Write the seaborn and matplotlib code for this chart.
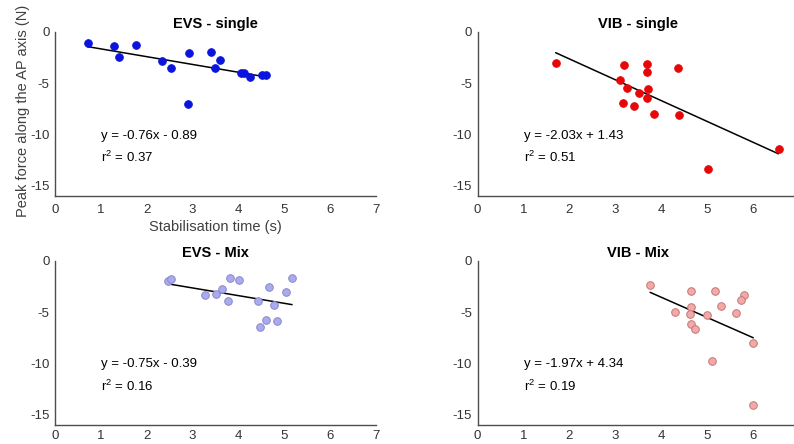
import matplotlib
matplotlib.use("Agg")
import matplotlib.pyplot as plt
import seaborn as sns
import numpy as np
import pandas as pd

# Stabilisation time (s) vs peak AP force (N)
evs_single_x = [0.71, 1.29, 1.40, 1.76, 2.34, 2.52, 2.93, 2.91, 3.41, 3.60, 3.49, 4.06, 4.11, 4.26, 4.51, 4.59]
evs_single_y = [-1.04, -1.37, -2.41, -1.27, -2.86, -3.48, -2.05, -7.03, -1.95, -2.77, -3.51, -3.97, -4.00, -4.39, -4.17, -4.17]

vib_single_x = [1.70, 3.18, 3.70, 3.69, 4.36, 3.10, 3.26, 3.71, 3.52, 3.70, 3.17, 3.40, 3.84, 4.39, 6.56, 5.02]
vib_single_y = [-3.06, -3.22, -3.16, -3.87, -3.51, -4.65, -5.47, -5.56, -5.99, -6.41, -6.93, -7.22, -8.04, -8.14, -11.45, -13.41]

evs_mix_x = [2.47, 2.53, 3.26, 3.51, 3.65, 3.77, 3.82, 4.01, 4.43, 4.67, 4.78, 4.59, 4.47, 4.83, 5.04, 5.17]
evs_mix_y = [-1.99, -1.76, -3.36, -3.26, -2.74, -3.91, -1.66, -1.89, -3.88, -2.58, -4.27, -5.77, -6.46, -5.84, -3.03, -1.66]

vib_mix_x = [3.76, 4.65, 5.17, 5.81, 5.75, 5.30, 4.65, 4.31, 4.62, 5.01, 5.63, 4.66, 4.74, 6.01, 5.11, 6.01]
vib_mix_y = [-2.40, -2.89, -2.89, -3.31, -3.83, -4.38, -4.51, -5.03, -5.19, -5.32, -5.06, -6.14, -6.62, -7.99, -9.77, -14.03]

titles = ["EVS - single", "VIB - single", "EVS - Mix", "VIB - Mix"]
slopes = [-0.76, -2.03, -0.75, -1.97]
intercepts = [-0.89, 1.43, -0.39, 4.34]
r2_values = [0.37, 0.51, 0.16, 0.19]
fill_colors = ["#0a14dc", "#e60808", "#aaaaf0", "#f5a8a8"]
edge_colors = ["#0a14dc", "#e60808", "#8888c8", "#c07878"]

sns.set_theme(style="white")
plt.rcParams["font.family"] = ["Liberation Sans", "DejaVu Sans"]
plt.rcParams["axes.unicode_minus"] = False
plt.rcParams["mathtext.fontset"] = "custom"
plt.rcParams["mathtext.rm"] = "Liberation Sans"
plt.rcParams["mathtext.it"] = "Liberation Sans:italic"

fig = plt.figure(figsize=(7.94, 4.44), dpi=100)
w, h = 0.4043, 0.3694
positions = [
    [0.0693, 0.5586, w, h],
    [0.6016, 0.5586, w, h],
    [0.0693, 0.0430, w, h],
    [0.6016, 0.0430, w, h],
]
xs = [evs_single_x, vib_single_x, evs_mix_x, vib_mix_x]
ys = [evs_single_y, vib_single_y, evs_mix_y, vib_mix_y]

txt = "#333333"
spine = "#4d4d4d"

for i in range(4):
    ax = fig.add_axes(positions[i])
    df = pd.DataFrame({"x": xs[i], "y": ys[i]})
    sns.scatterplot(data=df, x="x", y="y", ax=ax, s=30,
                    color=fill_colors[i], edgecolor=edge_colors[i],
                    linewidth=0.7, zorder=3)
    # fitted line over the data range
    fx = np.array([df["x"].min(), df["x"].max()])
    fit = pd.DataFrame({"x": fx, "y": slopes[i] * fx + intercepts[i]})
    sns.lineplot(data=fit, x="x", y="y", ax=ax, color="black", lw=1.1, zorder=2)

    ax.set_xlim(0, 7)
    ax.set_ylim(-16, 0)
    # right-hand panels run off the image edge, so their 7 is not shown
    ax.set_xticks(range(0, 8) if i % 2 == 0 else range(0, 7))
    ax.set_yticks([0, -5, -10, -15])
    ax.set_xlabel("")
    ax.set_ylabel("")
    for s in ["top", "right"]:
        ax.spines[s].set_visible(False)
    for s in ["left", "bottom"]:
        ax.spines[s].set_color(spine)
        ax.spines[s].set_linewidth(1.0)
    ax.tick_params(direction="in", length=3, width=0.8, colors=spine,
                   labelcolor=txt, labelsize=9.5, pad=4)
    ax.tick_params(axis="x", pad=5.5 if i < 2 else 3.5)
    ax.set_title(titles[i], fontsize=10.5, fontweight="bold", color="black", pad=3)

    sign = "+" if intercepts[i] >= 0 else "-"
    ax.text(1.0, -10.1, f"y = {slopes[i]:.2f}x {sign} {abs(intercepts[i]):.2f}",
            fontsize=9.5, color="black", ha="left", va="center")
    ax.text(1.0, -12.2, f"r$^{{2}}$ = {r2_values[i]:.2f}",
            fontsize=9.5, color="black", ha="left", va="center")

    if i == 0:
        ax.set_xlabel("Stabilisation time (s)", fontsize=10.5, color="#404040", labelpad=3)
        ax.set_ylabel("Peak force along the AP axis (N)", fontsize=10.5, color="#404040")
        ax.yaxis.set_label_coords(-0.078, 0.52)

fig.savefig("out.png", dpi=100)
